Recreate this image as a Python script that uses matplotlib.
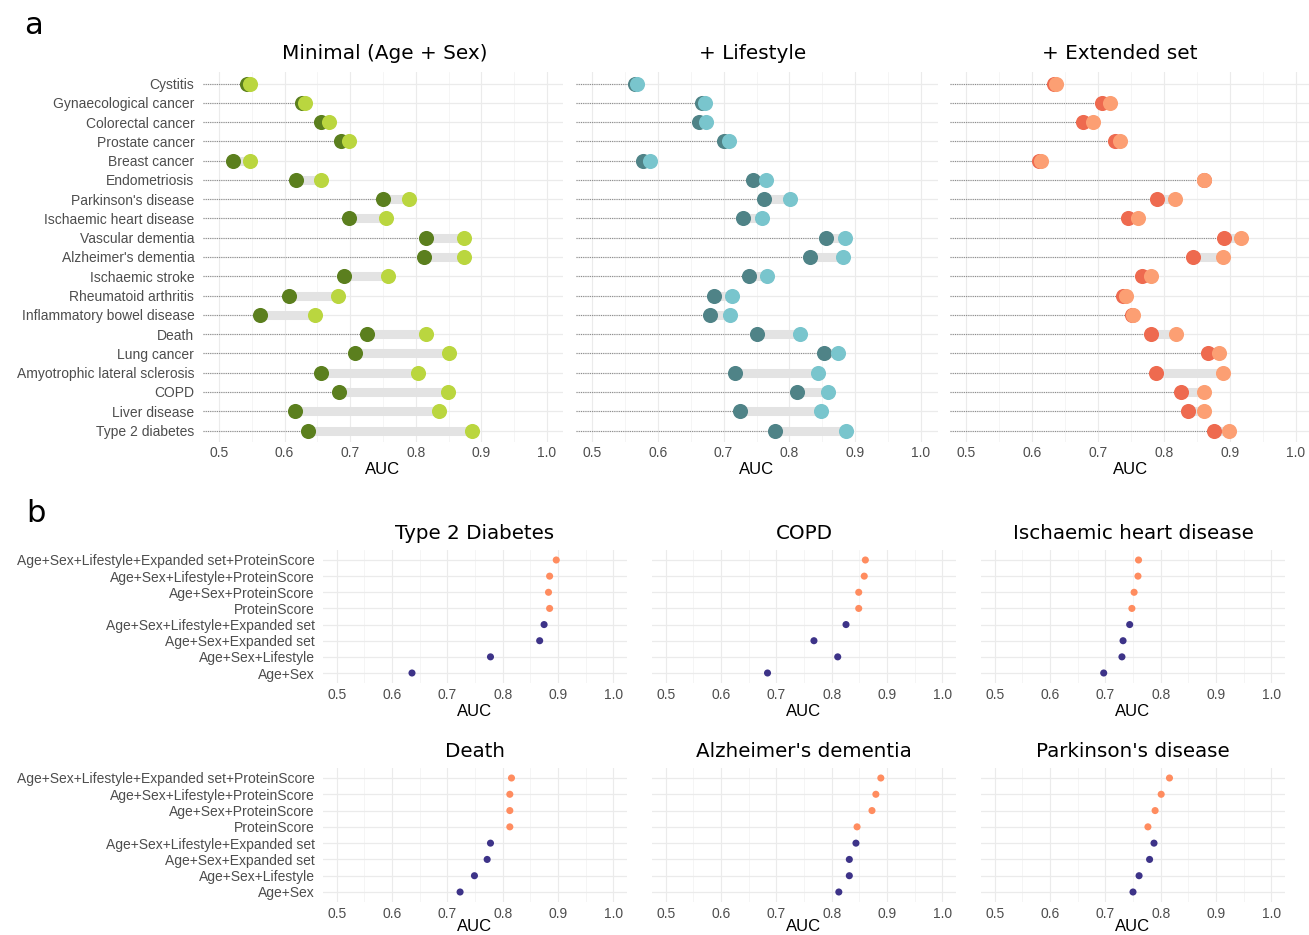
import matplotlib
matplotlib.use("Agg")
import matplotlib.pyplot as plt
import numpy as np

W, H = 1309, 935
DPI = 100

# ---------------- Panel a data ----------------
diseases = ["Cystitis", "Gynaecological cancer", "Colorectal cancer", "Prostate cancer",
            "Breast cancer", "Endometriosis", "Parkinson's disease", "Ischaemic heart disease",
            "Vascular dementia", "Alzheimer's dementia", "Ischaemic stroke",
            "Rheumatoid arthritis", "Inflammatory bowel disease", "Death", "Lung cancer",
            "Amyotrophic lateral sclerosis", "COPD", "Liver disease", "Type 2 diabetes"]

minimal_base = [0.542, 0.626, 0.656, 0.686, 0.521, 0.618, 0.750, 0.698, 0.816, 0.813,
                0.691, 0.606, 0.562, 0.725, 0.708, 0.656, 0.683, 0.616, 0.636]
minimal_prot = [0.548, 0.631, 0.667, 0.698, 0.548, 0.656, 0.790, 0.754, 0.874, 0.874,
                0.757, 0.682, 0.647, 0.816, 0.850, 0.804, 0.849, 0.836, 0.885]

lifestyle_base = [0.566, 0.667, 0.662, 0.700, 0.578, 0.744, 0.761, 0.730, 0.856, 0.832,
                  0.738, 0.686, 0.680, 0.751, 0.853, 0.718, 0.811, 0.725, 0.778]
lifestyle_prot = [0.568, 0.672, 0.673, 0.708, 0.588, 0.764, 0.801, 0.759, 0.885, 0.881,
                  0.766, 0.713, 0.710, 0.816, 0.874, 0.843, 0.858, 0.848, 0.886]

extended_base = [0.634, 0.706, 0.678, 0.725, 0.610, 0.860, 0.789, 0.745, 0.891, 0.844,
                 0.766, 0.738, 0.751, 0.780, 0.866, 0.788, 0.826, 0.837, 0.876]
extended_prot = [0.636, 0.718, 0.693, 0.733, 0.613, 0.861, 0.816, 0.761, 0.916, 0.890,
                 0.781, 0.743, 0.753, 0.818, 0.883, 0.890, 0.861, 0.861, 0.898]

panel_a_titles = ["Minimal (Age + Sex)", "+ Lifestyle", "+ Extended set"]

# ---------------- Panel b data ----------------
models = ["Age+Sex+Lifestyle+Expanded set+ProteinScore", "Age+Sex+Lifestyle+ProteinScore",
          "Age+Sex+ProteinScore", "ProteinScore", "Age+Sex+Lifestyle+Expanded set",
          "Age+Sex+Expanded set", "Age+Sex+Lifestyle", "Age+Sex"]
has_protein = [True, True, True, True, False, False, False, False]

panel_b_titles = ["Type 2 Diabetes", "COPD", "Ischaemic heart disease",
                  "Death", "Alzheimer's dementia", "Parkinson's disease"]
auc_t2d = [0.897, 0.885, 0.883, 0.885, 0.875, 0.867, 0.778, 0.636]
auc_copd = [0.861, 0.859, 0.849, 0.849, 0.826, 0.768, 0.811, 0.684]
auc_ihd = [0.760, 0.759, 0.752, 0.748, 0.744, 0.732, 0.730, 0.697]
auc_death = [0.816, 0.813, 0.813, 0.813, 0.778, 0.772, 0.749, 0.723]
auc_alz = [0.889, 0.880, 0.873, 0.846, 0.844, 0.832, 0.832, 0.813]
auc_park = [0.816, 0.801, 0.790, 0.777, 0.788, 0.780, 0.761, 0.750]

ticks = [0.5, 0.6, 0.7, 0.8, 0.9, 1.0]
tick_labels = ["0.5", "0.6", "0.7", "0.8", "0.9", "1.0"]

# ---------------- styling ----------------
TITLE_FONT = "DejaVu Sans"
LABEL_FONT = "Liberation Sans"
GRID_MAJ = "#EBEBEB"
GRID_MIN = "#F4F4F4"
TICK_COL = "#4D4D4D"

fig = plt.figure(figsize=(W / DPI, H / DPI), dpi=DPI)
fig.patch.set_facecolor("white")


def px_axes(x0, x1, y0, y1):
    return fig.add_axes([x0 / W, 1 - y1 / H, (x1 - x0) / W, (y1 - y0) / H])


def style_axes(ax, n, xlab_pad=2, labelpad=1):
    ax.set_xlim(0.475, 1.025)
    ax.set_ylim(n - 0.4, -0.6)
    for s in ax.spines.values():
        s.set_visible(False)
    ax.set_xticks(ticks)
    ax.set_xticklabels(tick_labels, fontfamily=LABEL_FONT, fontsize=10, color=TICK_COL)
    ax.set_xticks([0.55, 0.65, 0.75, 0.85, 0.95], minor=True)
    ax.tick_params(axis="both", which="both", length=0)
    ax.tick_params(axis="x", pad=xlab_pad)
    for xv in ticks:
        ax.axvline(xv, color=GRID_MAJ, lw=0.8, zorder=0)
    for xv in [0.55, 0.65, 0.75, 0.85, 0.95]:
        ax.axvline(xv, color=GRID_MIN, lw=0.6, zorder=0)
    for yi in range(n):
        ax.axhline(yi, color=GRID_MAJ, lw=0.9, zorder=0)
    ax.set_xlabel("AUC", fontfamily=LABEL_FONT, fontsize=12, color="black", labelpad=labelpad)


# ---------------- Panel a ----------------
pa_bounds = [(202.6, 563.4), (575.5, 937.5), (949.5, 1312.5)]
pa_colors = [("#5B7F1E", "#BAD63F"), ("#4F8387", "#79C5CD"), ("#EE6A4F", "#FC9F73")]
pa_data = [(minimal_base, minimal_prot), (lifestyle_base, lifestyle_prot),
           (extended_base, extended_prot)]
row_top, row_bot = 83.5, 430.5
n_a = len(diseases)
sp = (row_bot - row_top) / (n_a - 1)
y_top = row_top - 0.6 * sp
y_bot = row_bot + 0.6 * sp
title_centers = [385, 753, 1120]

for k in range(3):
    x0, x1 = pa_bounds[k]
    ax = px_axes(x0, x1, y_top, y_bot)
    style_axes(ax, n_a, xlab_pad=3)
    base, prot = pa_data[k]
    ys = np.arange(n_a)
    # dotted leader line from panel edge to the base value
    ax.hlines(ys, 0.475, base, colors="#8C8C8C", linestyles=(0, (1, 1)), lw=0.8, zorder=1)
    # grey range bar
    ax.hlines(ys, base, prot, colors="#E3E3E3", lw=6.5, zorder=2)
    ax.scatter(base, ys, s=118, color=pa_colors[k][0], zorder=3, linewidths=0)
    ax.scatter(prot, ys, s=118, color=pa_colors[k][1], zorder=4, linewidths=0)
    ax.set_yticks(ys)
    if k == 0:
        ax.set_yticklabels(diseases, fontfamily=LABEL_FONT, fontsize=10, color=TICK_COL)
    else:
        ax.set_yticklabels([])
    ax.tick_params(axis="y", pad=6)
    cx = (title_centers[k] - x0) / (x1 - x0)
    ax.set_title(panel_a_titles[k], fontfamily=TITLE_FONT, fontsize=14.4, x=cx, pad=9)

# ---------------- Panel b ----------------
pb_bounds_x = [(323, 627), (652, 956), (981, 1285)]
pb_rows = [(560, 673), (778, 892)]
pb_data = [auc_t2d, auc_copd, auc_ihd, auc_death, auc_alz, auc_park]
n_b = len(models)
col_prot = "#FF8C5F"
col_base = "#3D3388"

for i in range(6):
    r, c = divmod(i, 3)
    rt, rb = pb_rows[r]
    spb = (rb - rt) / (n_b - 1)
    x0, x1 = pb_bounds_x[c]
    ax = px_axes(x0, x1, rt - 0.6 * spb, rb + 0.6 * spb)
    style_axes(ax, n_b, xlab_pad=4, labelpad=(1 if r == 0 else -2))
    ys = np.arange(n_b)
    vals = pb_data[i]
    cols = [col_prot if p else col_base for p in has_protein]
    ax.scatter(vals, ys, s=26, c=cols, zorder=3, linewidths=0)
    ax.set_yticks(ys)
    if c == 0:
        ax.set_yticklabels(models, fontfamily=LABEL_FONT, fontsize=10, color=TICK_COL)
    else:
        ax.set_yticklabels([])
    ax.tick_params(axis="y", pad=6)
    ax.set_title(panel_b_titles[i], fontfamily=TITLE_FONT, fontsize=14.3, pad=8)

fig.text(24 / W, 1 - 26 / H, "a", fontfamily=TITLE_FONT, fontsize=22, va="center", ha="left")
fig.text(26 / W, 1 - 514 / H, "b", fontfamily=TITLE_FONT, fontsize=22, va="center", ha="left")

fig.savefig("out.png", dpi=DPI, facecolor="white")
